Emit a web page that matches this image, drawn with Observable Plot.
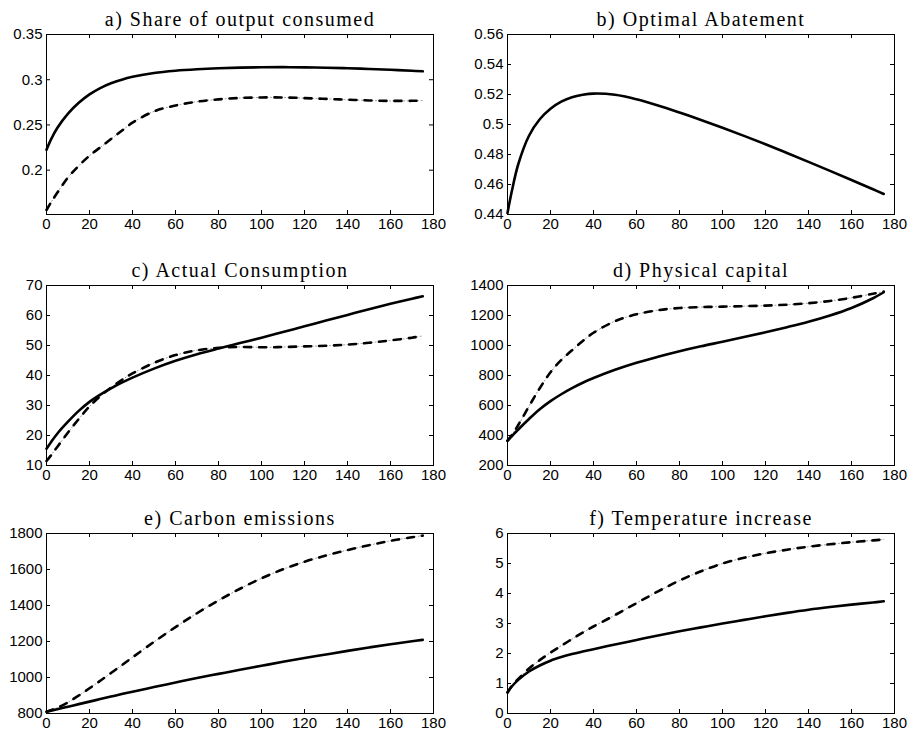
<!DOCTYPE html>
<html>
<head>
<meta charset="utf-8">
<script src="https://cdn.jsdelivr.net/npm/d3@7"></script>
<script src="https://cdn.jsdelivr.net/npm/@observablehq/plot@0.6"></script>
<style>
  html, body { margin: 0; padding: 0; background: #fff; }
  #fig { position: relative; width: 916px; height: 732px; overflow: hidden; background: #fff; }
  #fig svg { position: absolute; }
</style>
</head>
<body>
<div id="fig"></div>
<script>
// ---- data ----
const t = [0, 2, 5, 10, 15, 20, 25, 30, 35, 40, 50, 60, 70, 80, 90, 100, 110, 120, 130, 140, 150, 160, 170, 175];

const shareSolid = [0.2226, 0.2335, 0.2466, 0.2625, 0.2745, 0.2838, 0.2908, 0.2961, 0.3001, 0.3032, 0.3075, 0.3100, 0.3116, 0.3127, 0.3134, 0.3138, 0.3139, 0.3137, 0.3133, 0.3127, 0.3119, 0.3110, 0.3099, 0.3093];
const shareDash  = [0.156, 0.164, 0.175, 0.192, 0.2048, 0.216, 0.2252, 0.2344, 0.2435, 0.2525, 0.2650, 0.2715, 0.2757, 0.2783, 0.2798, 0.2804, 0.2804, 0.2797, 0.2788, 0.2779, 0.2771, 0.2766, 0.2767, 0.2770];

const abateSolid = [0.441, 0.4555, 0.4735, 0.4925, 0.5035, 0.5105, 0.5152, 0.5182, 0.5198, 0.5206, 0.5198, 0.5168, 0.5127, 0.5080, 0.5030, 0.4978, 0.4924, 0.4868, 0.4810, 0.4751, 0.4691, 0.4630, 0.4568, 0.4537];

const consSolid = [15.6, 17.7, 20.6, 24.6, 28.2, 31.2, 33.6, 35.7, 37.6, 39.3, 42.3, 44.9, 47.1, 49.0, 50.8, 52.6, 54.5, 56.4, 58.3, 60.2, 62.1, 63.9, 65.6, 66.4];
const consDash  = [11.5, 13.3, 16.2, 21.0, 25.5, 29.7, 33.1, 36.0, 38.5, 40.7, 44.2, 46.8, 48.4, 49.2, 49.5, 49.4, 49.5, 49.7, 49.9, 50.3, 50.9, 51.7, 52.6, 53.2];

const capSolid = [365, 395, 440, 510, 575, 629, 675, 716, 752, 783, 838, 885, 925, 962, 995, 1025, 1056, 1088, 1122, 1158, 1200, 1250, 1315, 1355];
const capDash  = [365, 403, 470, 595, 715, 822, 903, 968, 1030, 1085, 1162, 1208, 1235, 1250, 1256, 1259, 1262, 1266, 1272, 1282, 1297, 1318, 1345, 1360];

const emisSolid = [810, 816, 824, 838, 852, 866, 880, 894, 908, 921, 947, 972, 997, 1020, 1043, 1065, 1087, 1108, 1128, 1148, 1167, 1185, 1201, 1209];
const emisDash  = [810, 818, 832, 862, 900, 940, 982, 1025, 1068, 1112, 1198, 1280, 1357, 1428, 1493, 1551, 1601, 1643, 1678, 1708, 1735, 1759, 1779, 1788];

const tempSolid = [0.7, 0.9, 1.12, 1.40, 1.60, 1.76, 1.88, 1.98, 2.065, 2.145, 2.30, 2.45, 2.60, 2.74, 2.87, 3.00, 3.12, 3.24, 3.355, 3.46, 3.55, 3.63, 3.70, 3.74];
const tempDash  = [0.7, 0.92, 1.15, 1.5, 1.78, 2.03, 2.26, 2.48, 2.7, 2.9, 3.28, 3.68, 4.07, 4.43, 4.74, 5.0, 5.19, 5.34, 5.46, 5.56, 5.64, 5.71, 5.77, 5.80];

// ---- tick labels / titles ----
const xTicks = [0, 20, 40, 60, 80, 100, 120, 140, 160, 180];
const aTicks = [0.2, 0.25, 0.3, 0.35];
const bTicks = [0.44, 0.46, 0.48, 0.5, 0.52, 0.54, 0.56];
const cTicks = [10, 20, 30, 40, 50, 60, 70];
const dTicks = [200, 400, 600, 800, 1000, 1200, 1400];
const eTicks = [800, 1000, 1200, 1400, 1600, 1800];
const fTicks = [0, 1, 2, 3, 4, 5, 6];
const titles = ["a) Share of output consumed", "b) Optimal Abatement", "c) Actual Consumption",
                "d) Physical capital", "e) Carbon emissions", "f) Temperature increase"];

const panels = [
  {title: titles[0], solid: shareSolid, dash: shareDash, yDomain: [0.151, 0.35], yTicks: aTicks},
  {title: titles[1], solid: abateSolid, dash: null,      yDomain: [0.44, 0.56],  yTicks: bTicks},
  {title: titles[2], solid: consSolid,  dash: consDash,  yDomain: [10, 70],      yTicks: cTicks},
  {title: titles[3], solid: capSolid,   dash: capDash,   yDomain: [200, 1400],   yTicks: dTicks},
  {title: titles[4], solid: emisSolid,  dash: emisDash,  yDomain: [800, 1800],   yTicks: eTicks},
  {title: titles[5], solid: tempSolid,  dash: tempDash,  yDomain: [0, 6],        yTicks: fTicks}
];

// ---- layout ----
const W = 460, FH = 180, FW = 387;
const MT = 34, MB = 22;
const colLeft = [0, 456];
const colMarginLeft = [46, 51];
const rowTop = [0, 251, 499];
const tickLen = 4;
const fmt = d => String(d);
const tickFont = "Liberation Sans, Arial, Helvetica, sans-serif";

const fig = document.getElementById("fig");

panels.forEach((p, i) => {
  const col = i % 2, row = Math.floor(i / 2);
  const ml = colMarginLeft[col];
  const mr = W - ml - FW;
  const solidData = t.map((x, k) => ({t: x, v: p.solid[k]}));
  const marks = [
    Plot.frame({stroke: "#000", strokeWidth: 1}),
    Plot.tickX(xTicks, {x: d => d, stroke: "#000", strokeWidth: 1, insetTop: FH - tickLen}),
    Plot.tickX(xTicks, {x: d => d, stroke: "#000", strokeWidth: 1, insetBottom: FH - tickLen}),
    Plot.tickY(p.yTicks, {y: d => d, stroke: "#000", strokeWidth: 1, insetRight: FW - tickLen}),
    Plot.tickY(p.yTicks, {y: d => d, stroke: "#000", strokeWidth: 1, insetLeft: FW - tickLen}),
    Plot.axisX({ticks: xTicks, tickSize: 0, tickPadding: 4, tickFormat: fmt, label: null, fontSize: 15, fontFamily: tickFont, fill: "#000"}),
    Plot.axisY({ticks: p.yTicks, tickSize: 0, tickPadding: 4, tickFormat: fmt, label: null, fontSize: 15, fontFamily: tickFont, fill: "#000"})
  ];
  if (p.dash) {
    const dashData = t.map((x, k) => ({t: x, v: p.dash[k]}));
    marks.push(Plot.line(dashData, {x: "t", y: "v", curve: "catmull-rom", stroke: "#8a8a8a", strokeWidth: 0.9, strokeDasharray: "1,2.5"}));
    marks.push(Plot.line(dashData, {x: "t", y: "v", curve: "catmull-rom", stroke: "#000", strokeWidth: 2.6, strokeDasharray: "7,8"}));
  }
  marks.push(Plot.line(solidData, {x: "t", y: "v", curve: "catmull-rom", stroke: "#000", strokeWidth: 2.6}));
  marks.push(Plot.text([p.title], {text: d => d, frameAnchor: "top", dy: -9, lineAnchor: "bottom",
    fontSize: 20, fontFamily: "Liberation Serif, Times New Roman, serif", fill: "#000"}));

  const svg = Plot.plot({
    width: W, height: MT + FH + MB,
    marginTop: MT, marginBottom: MB, marginLeft: ml, marginRight: mr,
    style: {fontFamily: tickFont, fontSize: "15px", color: "#000", background: "transparent", overflow: "visible"},
    x: {domain: [0, 180], label: null},
    y: {domain: p.yDomain, label: null},
    marks
  });
  svg.style.left = colLeft[col] + "px";
  svg.style.top = rowTop[row] + "px";
  svg.querySelectorAll("text").forEach(el => {
    if (el.textContent === p.title) el.style.letterSpacing = "1.5px";
  });
  fig.appendChild(svg);
});
</script>
</body>
</html>
